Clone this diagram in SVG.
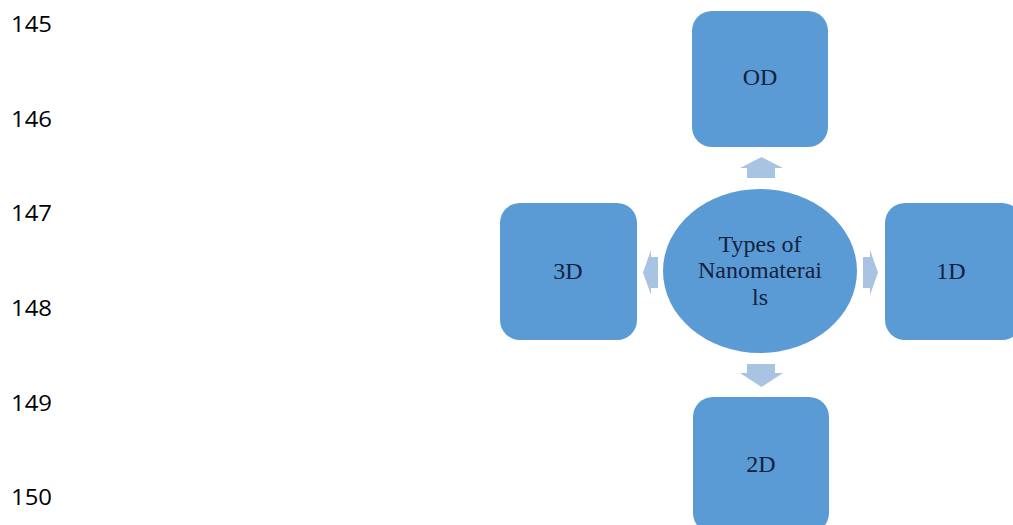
<svg xmlns="http://www.w3.org/2000/svg" width="1013" height="525" viewBox="0 0 1013 525">
<style>
.ln{font-family:"Open Sans","Liberation Sans",Arial,sans-serif;font-size:22px;fill:#000}
.box{fill:#5b9bd5}
.lbl{font-family:"Liberation Serif","Times New Roman",serif;font-size:24px;fill:#13223f;text-anchor:middle}
.arr{fill:#a9c3e3}
</style>
<rect width="1013" height="525" fill="#fff"/>
<g id="line-numbers">
<text class="ln" x="11" y="32" textLength="41" lengthAdjust="spacingAndGlyphs">145</text>
<text class="ln" x="11" y="127" textLength="41" lengthAdjust="spacingAndGlyphs">146</text>
<text class="ln" x="11" y="221" textLength="41" lengthAdjust="spacingAndGlyphs">147</text>
<text class="ln" x="11" y="316" textLength="41" lengthAdjust="spacingAndGlyphs">148</text>
<text class="ln" x="11" y="411" textLength="41" lengthAdjust="spacingAndGlyphs">149</text>
<text class="ln" x="11" y="505" textLength="41" lengthAdjust="spacingAndGlyphs">150</text>
</g>
<g id="connectors">
<polygon class="arr" points="747,178 747,168 740,168 761.5,157 783,168 775,168 775,178"/>
<polygon class="arr" points="747,364 775,364 775,373 783,373 761.5,387 740,373 747,373"/>
<polygon class="arr" points="658,257 651,257 651,250 643,272.5 651,295 651,288 658,288"/>
<polygon class="arr" points="863,257 870,257 870,250 878,272.5 870,295 870,288 863,288"/>
</g>
<g id="node-center">
<ellipse cx="760" cy="271" rx="97" ry="82" fill="#5b9bd5"/>
<text class="lbl" x="760" y="252">Types of</text>
<text class="lbl" x="760" y="278">Nanomaterai</text>
<text class="lbl" x="760" y="305">ls</text>
</g>
<g id="node-0D">
<rect class="box" x="692" y="11" width="136" height="136" rx="20"/>
<text class="lbl" x="760" y="85">OD</text>
</g>
<g id="node-3D">
<rect class="box" x="500" y="203" width="137" height="137" rx="20"/>
<text class="lbl" x="568" y="279">3D</text>
</g>
<g id="node-1D">
<rect class="box" x="885" y="203" width="137" height="137" rx="20"/>
<text class="lbl" x="951" y="279">1D</text>
</g>
<g id="node-2D">
<rect class="box" x="693" y="397" width="136" height="136" rx="20"/>
<text class="lbl" x="761" y="472">2D</text>
</g>
</svg>
